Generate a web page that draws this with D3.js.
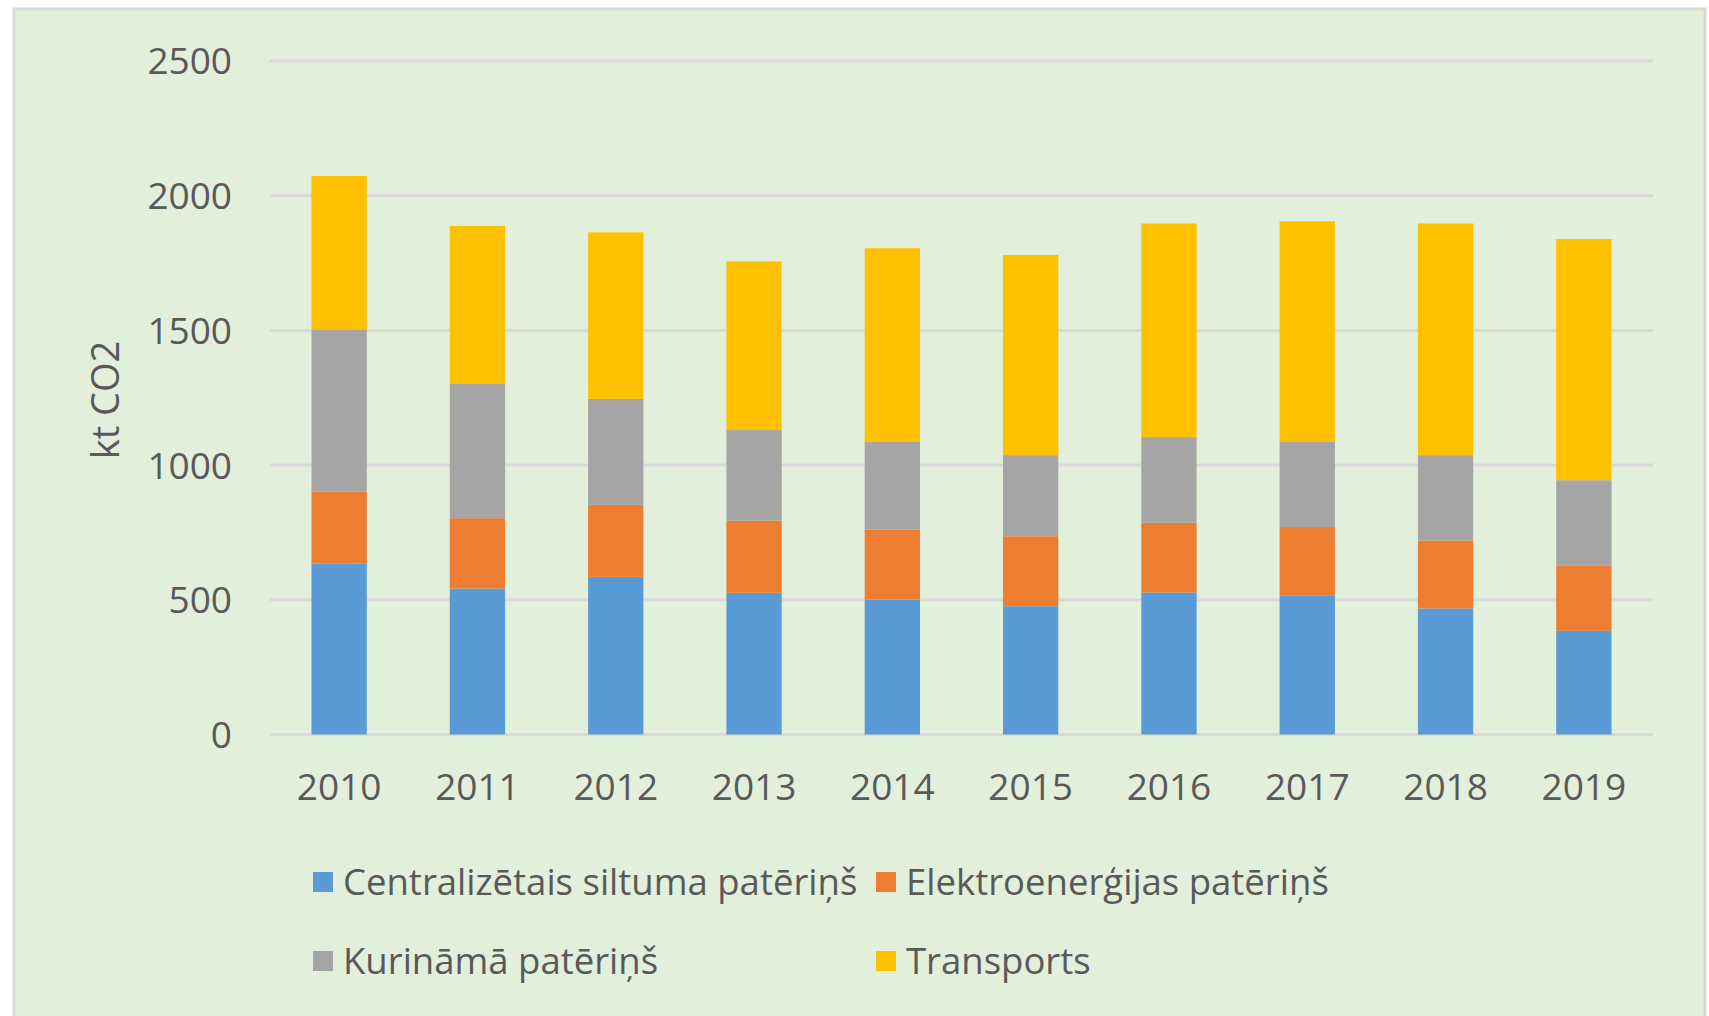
<!DOCTYPE html>
<html>
<head>
<meta charset="utf-8">
<script src="https://cdn.jsdelivr.net/npm/d3@7"></script>
<style>
  body { margin: 0; background: #fff; }
  text { font-family: "Open Sans", sans-serif; fill: #595959; }
</style>
</head>
<body>
<div id="chart"></div>
<script>
// chart data (kt CO2)
const years = ["2010", "2011", "2012", "2013", "2014", "2015", "2016", "2017", "2018", "2019"];
const seriesNames = ["Centralizētais siltuma patēriņš", "Elektroenerģijas patēriņš", "Kurināmā patēriņš", "Transports"];
const centralHeat = [635, 542, 585, 526, 501, 476, 527, 517, 468, 385];
const electricity = [267, 261, 267, 268, 260, 260, 259, 253, 252, 241];
const fuel = [601, 500, 394, 336, 325, 301, 318, 318, 317, 318];
const transport = [570, 585, 618, 626, 719, 743, 793, 817, 860, 895];
const yTicks = [0, 500, 1000, 1500, 2000, 2500];

const colors = ["#5b9bd5", "#ed7d31", "#a5a5a5", "#ffc000"];

// build rows for d3.stack
var rows = years.map(function (y, i) {
  return { year: y, s0: centralHeat[i], s1: electricity[i], s2: fuel[i], s3: transport[i] };
});
var keys = ["s0", "s1", "s2", "s3"];

const width = 1709;
const height = 1016;
const plot = { left: 270, right: 1653, top: 61, bottom: 734.5 };

var svg = d3.select("#chart")
  .append("svg")
  .attr("width", width)
  .attr("height", height);

// panel background + border
svg.append("rect")
  .attr("x", 14)
  .attr("y", 9)
  .attr("width", 1691)
  .attr("height", 1030)
  .attr("fill", "#e2efda")
  .attr("stroke", "#d9d9d9")
  .attr("stroke-width", 3);

var x = d3.scaleBand()
  .domain(years)
  .range([plot.left, plot.right])
  .paddingInner(0.6)
  .paddingOuter(0.3);

var y = d3.scaleLinear()
  .domain([0, 2500])
  .range([plot.bottom, plot.top]);

// gridlines
svg.append("g")
  .selectAll("line")
  .data(yTicks)
  .enter()
  .append("line")
  .attr("x1", plot.left)
  .attr("x2", plot.right)
  .attr("y1", function (d) { return y(d); })
  .attr("y2", function (d) { return y(d); })
  .attr("stroke", "#d9d9d9")
  .attr("stroke-width", 3);

// y axis labels (no thousands separator)
var yAxis = d3.axisLeft(y)
  .tickValues(yTicks)
  .tickFormat(d3.format("d"))
  .tickSize(0)
  .tickPadding(0);
var gy = svg.append("g")
  .attr("transform", "translate(232,0)")
  .call(yAxis);
gy.select(".domain").remove();
gy.selectAll("text")
  .attr("font-size", 37)
  .attr("font-family", null)
  .attr("dy", "0.35em");

// stacked bars
var stacked = d3.stack().keys(keys)(rows);

svg.append("g")
  .selectAll("g")
  .data(stacked)
  .enter()
  .append("g")
  .attr("fill", function (d, i) { return colors[i]; })
  .selectAll("rect")
  .data(function (d) { return d; })
  .enter()
  .append("rect")
  .attr("x", function (d) { return x(d.data.year); })
  .attr("width", x.bandwidth())
  .attr("y", function (d) { return y(d[1]); })
  .attr("height", function (d) { return y(d[0]) - y(d[1]); });

// x axis labels
var xAxis = d3.axisBottom(x).tickSize(0).tickPadding(0);
var gx = svg.append("g")
  .attr("transform", "translate(0,787)")
  .call(xAxis);
gx.select(".domain").remove();
gx.selectAll("text")
  .attr("font-size", 37)
  .attr("font-family", null)
  .attr("dy", "0.35em");

// y axis title
svg.append("text")
  .attr("transform", "translate(106,400) rotate(-90)")
  .attr("text-anchor", "middle")
  .attr("dy", "0.35em")
  .attr("font-size", 38)
  .text("kt CO2");

// legend, two rows of two
var legendPos = [
  { x: 313, y: 882 },
  { x: 876, y: 882 },
  { x: 313, y: 961 },
  { x: 876, y: 961 }
];

var legend = svg.append("g")
  .selectAll("g")
  .data(seriesNames)
  .enter()
  .append("g")
  .attr("transform", function (d, i) {
    return "translate(" + legendPos[i].x + "," + legendPos[i].y + ")";
  });

legend.append("rect")
  .attr("x", 0)
  .attr("y", -10)
  .attr("width", 20)
  .attr("height", 20)
  .attr("fill", function (d, i) { return colors[i]; });

legend.append("text")
  .attr("x", 30)
  .attr("dy", "0.35em")
  .attr("font-size", 36.5)
  .text(function (d) { return d; });
</script>
</body>
</html>
